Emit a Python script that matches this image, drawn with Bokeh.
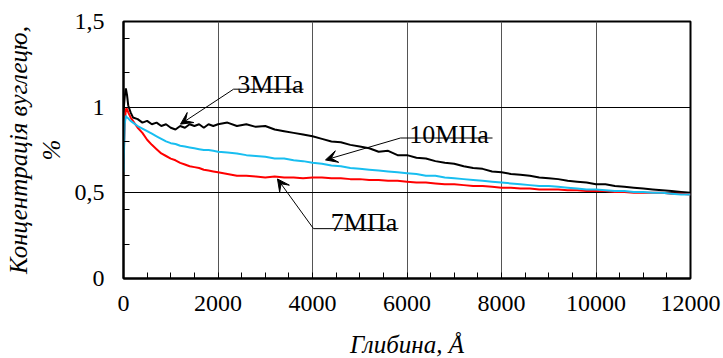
from bokeh.plotting import figure
from bokeh.models import Range1d, FixedTicker, Arrow, VeeHead, Label
from bokeh.embed import file_html
from bokeh.resources import INLINE

# ---- data ----
depth = [0, 25, 50, 75, 100, 150, 200, 300, 400, 500, 600, 700, 800, 900, 1000,
         1100, 1200, 1300, 1400, 1500, 1600, 1700, 1800, 1900, 2000,
         2200, 2400, 2600, 2800, 3000, 3200, 3400, 3600, 3800, 4000,
         4200, 4400, 4600, 4800, 5000, 5200, 5400, 5600, 5800, 6000,
         6200, 6400, 6600, 6800, 7000, 7200, 7400, 7600, 7800, 8000,
         8200, 8400, 8600, 8800, 9000, 9200, 9400, 9600, 9800, 10000,
         10200, 10400, 10600, 10800, 11000, 11200, 11400, 11600, 11800, 12000]

c_3mpa = [0.97, 1.06, 1.11, 1.07, 1.01, 0.97, 0.94, 0.93, 0.91, 0.92, 0.90, 0.91, 0.89, 0.90, 0.88,
          0.87, 0.89, 0.88, 0.90, 0.89, 0.90, 0.88, 0.90, 0.89, 0.90,
          0.91, 0.89, 0.90, 0.885, 0.89, 0.87, 0.86, 0.85, 0.84, 0.83,
          0.815, 0.80, 0.795, 0.78, 0.77, 0.76, 0.74, 0.745, 0.72, 0.72,
          0.705, 0.70, 0.685, 0.675, 0.67, 0.655, 0.645, 0.64, 0.625, 0.62,
          0.61, 0.605, 0.60, 0.59, 0.585, 0.58, 0.57, 0.565, 0.56, 0.55,
          0.55, 0.54, 0.535, 0.53, 0.525, 0.52, 0.515, 0.51, 0.505, 0.50]

c_7mpa = [0.67, 0.90, 0.99, 0.99, 0.97, 0.94, 0.92, 0.88, 0.85, 0.81, 0.78, 0.755, 0.73, 0.715, 0.70,
          0.69, 0.675, 0.665, 0.655, 0.65, 0.645, 0.635, 0.63, 0.625, 0.62,
          0.61, 0.60, 0.60, 0.595, 0.59, 0.595, 0.59, 0.59, 0.585, 0.59,
          0.59, 0.585, 0.585, 0.58, 0.58, 0.575, 0.575, 0.57, 0.57, 0.565,
          0.56, 0.56, 0.555, 0.55, 0.55, 0.545, 0.54, 0.54, 0.535, 0.53,
          0.53, 0.525, 0.525, 0.52, 0.52, 0.52, 0.515, 0.515, 0.51, 0.51,
          0.51, 0.505, 0.505, 0.50, 0.50, 0.50, 0.50, 0.495, 0.495, 0.49]

c_10mpa = [0.62, 0.90, 0.95, 0.94, 0.935, 0.92, 0.91, 0.89, 0.875, 0.86, 0.845, 0.83, 0.815, 0.80, 0.79,
           0.785, 0.775, 0.77, 0.765, 0.76, 0.755, 0.75, 0.75, 0.745, 0.74,
           0.735, 0.73, 0.72, 0.715, 0.71, 0.70, 0.70, 0.69, 0.685, 0.675,
           0.67, 0.66, 0.655, 0.645, 0.64, 0.635, 0.63, 0.625, 0.62, 0.615,
           0.61, 0.60, 0.60, 0.59, 0.585, 0.58, 0.575, 0.57, 0.565, 0.56,
           0.555, 0.55, 0.545, 0.54, 0.54, 0.535, 0.53, 0.525, 0.52, 0.52,
           0.515, 0.51, 0.51, 0.505, 0.505, 0.50, 0.50, 0.495, 0.49, 0.49]

x_ticks = [0, 2000, 4000, 6000, 8000, 10000, 12000]
x_minor = [500, 1000, 1500, 2500, 3000, 3500, 4500, 5000, 5500, 6500, 7000, 7500,
           8500, 9000, 9500, 10500, 11000, 11500]
y_ticks = [0, 0.5, 1, 1.5]
y_tick_labels = ["0", "0,5", "1", "1,5"]
y_minor = [0.2, 0.4, 0.6, 0.8, 1.2, 1.4]

x_title = "Глибина, Å"
y_title = "Концентрація вуглецю,\n%"

# ---- figure ----
FONT = "Liberation Serif"
p = figure(frame_width=567, frame_height=257,
           x_range=Range1d(0, 12000), y_range=Range1d(0, 1.5),
           output_backend="svg", toolbar_location=None,
           min_border_left=123, min_border_right=33,
           min_border_top=21, min_border_bottom=78)
p.background_fill_color = "white"
p.border_fill_color = "white"
p.outline_line_color = "black"
p.outline_line_width = 2

for ax in (p.xaxis[0], p.yaxis[0]):
    ax.axis_line_color = "black"
    ax.axis_line_width = 2
    ax.major_tick_in = 6
    ax.major_tick_out = 0
    ax.minor_tick_in = 6
    ax.minor_tick_out = 0
    ax.major_tick_line_color = "black"
    ax.minor_tick_line_color = "black"
    ax.major_label_text_font = FONT
    ax.major_label_text_font_size = "24px"
    ax.major_label_text_color = "black"
    ax.axis_label_text_font = FONT
    ax.axis_label_text_font_style = "italic"
    ax.axis_label_text_font_size = "25px"
    ax.axis_label_text_color = "black"

p.xaxis.ticker = FixedTicker(ticks=x_ticks, minor_ticks=x_minor)
p.yaxis.ticker = FixedTicker(ticks=y_ticks, minor_ticks=y_minor)
p.yaxis.major_label_overrides = {t: l for t, l in zip(y_ticks, y_tick_labels)}
p.xaxis.major_label_standoff = 17
p.yaxis.major_label_standoff = 19
p.xaxis.axis_label = x_title
p.yaxis.axis_label = y_title
p.xaxis.axis_label_standoff = 17
p.yaxis.axis_label_standoff = 7

p.xgrid.grid_line_color = "#555555"
p.xgrid.grid_line_width = 1
p.ygrid.grid_line_color = "black"
p.ygrid.grid_line_width = 1

p.line(depth, c_3mpa, line_color="black", line_width=2)
p.line(depth, c_7mpa, line_color="#FF0000", line_width=2)
p.line(depth, c_10mpa, line_color="#18BEF0", line_width=2)

# ---- annotations: label text, underline, arrow ----
annotations = [
    # text, text x, text y (baseline), underline x0, x1, y, arrow tip x, y
    ("3МПа", 3110, 1.134, 2330, 3810, 1.105, 1206, 0.901),
    ("10МПа", 6890, 0.843, 5862, 7810, 0.820, 4275, 0.692),
    ("7МПа", 5090, 0.326, 4021, 5820, 0.291, 3259, 0.581),
]
for txt, tx, ty, ux0, ux1, uy, ax_, ay_ in annotations:
    p.add_layout(Label(x=tx, y=ty, text=txt, text_font=FONT, text_font_size="26px",
                       text_align="center", text_baseline="alphabetic", text_color="black"))
    p.segment(x0=[ux0], y0=[uy], x1=[ux1], y1=[uy], line_color="black", line_width=1)
    p.add_layout(Arrow(end=VeeHead(size=12, fill_color="black", line_color="black", line_width=1),
                       x_start=ux0, y_start=uy, x_end=ax_, y_end=ay_,
                       line_color="black", line_width=1))

open("out.html", "w").write(file_html(p, INLINE))
